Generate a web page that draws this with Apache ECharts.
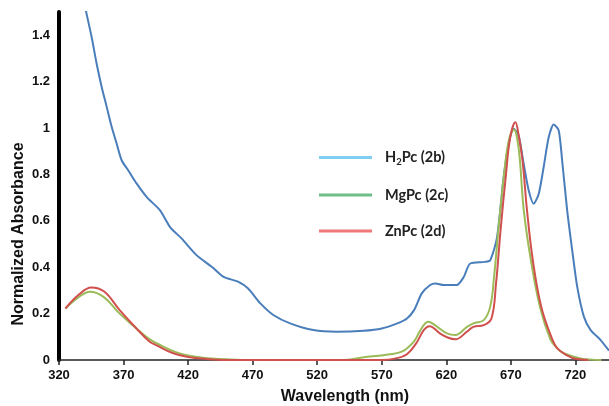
<!DOCTYPE html>
<html>
<head>
<meta charset="utf-8">
<script src="https://cdn.jsdelivr.net/npm/echarts@6/dist/echarts.min.js"></script>
<style>html,body{margin:0;padding:0;background:#fff}#c{width:609px;height:406px}</style>
</head>
<body>
<div id="c"></div>
<script>
var xTicks = [320, 370, 420, 470, 520, 570, 620, 670, 720];
var yTicks = [0, 0.2, 0.4, 0.6, 0.8, 1, 1.2, 1.4];
var seriesNames = ['H2Pc (2b)', 'MgPc (2c)', 'ZnPc (2d)'];

var h2pcWl  = [338,341.4,345.3,349.2,353.1,357,360.9,364.7,368.6,373.7,380.2,388,398.3,406,415.1,426.5,438.5,447.5,459,466.5,476,486,499,517,535,556,570,582,589.5,595,601,607.5,611.5,618,628,633.5,638.5,650,654,659.3,664.4,668.3,672.2,676,679.9,683.8,687.7,691.6,695.4,699.3,703.2,707,709.7,713.6,717.5,721.4,726.6,731.8,739.5,746];
var h2pcAbs = [1.58,1.491,1.391,1.276,1.176,1.09,1.003,0.932,0.86,0.817,0.76,0.702,0.645,0.573,0.523,0.452,0.401,0.358,0.337,0.308,0.244,0.194,0.158,0.129,0.122,0.126,0.136,0.158,0.179,0.215,0.287,0.323,0.330,0.323,0.323,0.358,0.416,0.423,0.43,0.53,0.788,0.932,0.997,0.968,0.846,0.731,0.674,0.717,0.832,0.96,1.015,0.99,0.86,0.645,0.473,0.315,0.186,0.129,0.086,0.04];

var mgpcWl  = [325,335,344,355,367,380,390,400,410,420,435,450,470,540,555,575,586,595,600,606,613,620.5,627,636,641,649,654,657,660.5,664.5,668.5,672.5,675,677,680,685.5,692.5,700.5,705,711,724,740];
var mgpcAbs = [0.222,0.27,0.294,0.27,0.20,0.136,0.09,0.06,0.035,0.02,0.008,0.003,0,0,0.011,0.024,0.037,0.08,0.129,0.165,0.143,0.115,0.108,0.143,0.158,0.172,0.23,0.36,0.573,0.788,0.95,0.993,0.95,0.86,0.645,0.43,0.23,0.09,0.055,0.029,0.007,0];

var znpcWl  = [325,335,345,355,367,380,390,396,408,419,435,450,570,580,589.5,597,602.5,607,615,621,627,636,641,649,655,658.5,662,666,669.5,673.5,676,679,682.5,687,693.5,702,706,713.5,720,730];
var znpcAbs = [0.222,0.28,0.313,0.295,0.215,0.136,0.08,0.062,0.03,0.014,0.004,0,0,0.006,0.025,0.075,0.129,0.146,0.115,0.097,0.089,0.122,0.143,0.15,0.18,0.33,0.559,0.788,0.96,1.025,0.97,0.86,0.645,0.43,0.23,0.09,0.05,0.02,0.005,0];

function zip(a, b) { return a.map(function (v, i) { return [v, b[i]]; }); }

var chart = echarts.init(document.getElementById('c'));
var lblFont = {fontFamily: 'Liberation Sans, Arial, sans-serif', fontWeight: 'bold', fontSize: 13, color: '#111'};
chart.setOption({
  animation: false,
  grid: {left: 59, right: 0, top: 12, bottom: 46},
  xAxis: {
    type: 'value', min: 320, max: 746, interval: 50,
    axisLine: {lineStyle: {color: '#222', width: 1.5}},
    axisTick: {show: true, length: 5, lineStyle: {color: '#222', width: 1.5}},
    axisLabel: Object.assign({margin: 9, showMaxLabel: false, formatter: function (v) { return xTicks.indexOf(v) >= 0 ? String(v) : ''; }}, lblFont),
    splitLine: {show: false}
  },
  yAxis: {
    type: 'value', min: 0, max: 1.5, interval: 0.2,
    axisLine: {show: true, lineStyle: {color: '#000', width: 4}},
    axisTick: {show: false},
    axisLabel: Object.assign({margin: 9, showMaxLabel: false, formatter: function (v) { var r = Math.round(v * 10) / 10; return yTicks.indexOf(r) >= 0 ? String(r) : ''; }}, lblFont),
    splitLine: {show: false}
  },
  legend: {
    orient: 'vertical', left: 314, top: 145, itemWidth: 53, itemHeight: 3, icon: 'rect', itemGap: 21,
    data: [
      {name: seriesNames[0], itemStyle: {color: '#7fcdf0'}},
      {name: seriesNames[1], itemStyle: {color: '#6fbe88'}},
      {name: seriesNames[2], itemStyle: {color: '#f07878'}}
    ],
    formatter: function (n) {
      if (n === seriesNames[0]) return '{n|H}{s|2}{n|Pc (2b)}';
      return '{n|' + n + '}';
    },
    textStyle: {
      padding: [0, 0, 0, 8],
      rich: {
        n: {fontFamily: 'Lato, Open Sans, sans-serif', fontWeight: 'bold', fontSize: 14.5, color: '#222', lineHeight: 18},
        s: {fontFamily: 'Lato, Open Sans, sans-serif', fontWeight: 'bold', fontSize: 9.5, color: '#222', lineHeight: 18, verticalAlign: 'bottom', padding: [6, 0, 0, 0]}
      }
    }
  },
  graphic: [
    {type: 'text', x: 19, y: 234, rotation: Math.PI / 2, style: {text: 'Normalized Absorbance', fontFamily: 'Liberation Sans, Arial, sans-serif', fontWeight: 'bold', fontSize: 16, fill: '#111', textAlign: 'center', textVerticalAlign: 'middle'}},
    {type: 'text', x: 345, y: 397, style: {text: 'Wavelength (nm)', fontFamily: 'Liberation Sans, Arial, sans-serif', fontWeight: 'bold', fontSize: 16, fill: '#111', textAlign: 'center', textVerticalAlign: 'middle'}}
  ],
  series: [
    {name: seriesNames[0], type: 'line', data: zip(h2pcWl, h2pcAbs), showSymbol: false, symbol: 'none', smooth: 0.25, lineStyle: {color: '#4a7ebb', width: 2}, itemStyle: {color: '#4a7ebb'}},
    {name: seriesNames[1], type: 'line', data: zip(mgpcWl, mgpcAbs), showSymbol: false, symbol: 'none', smooth: 0.4, lineStyle: {color: '#9bbb59', width: 2}, itemStyle: {color: '#9bbb59'}},
    {name: seriesNames[2], type: 'line', data: zip(znpcWl, znpcAbs), showSymbol: false, symbol: 'none', smooth: 0.4, lineStyle: {color: '#d0504d', width: 2}, itemStyle: {color: '#d0504d'}}
  ]
});
</script>
</body>
</html>
